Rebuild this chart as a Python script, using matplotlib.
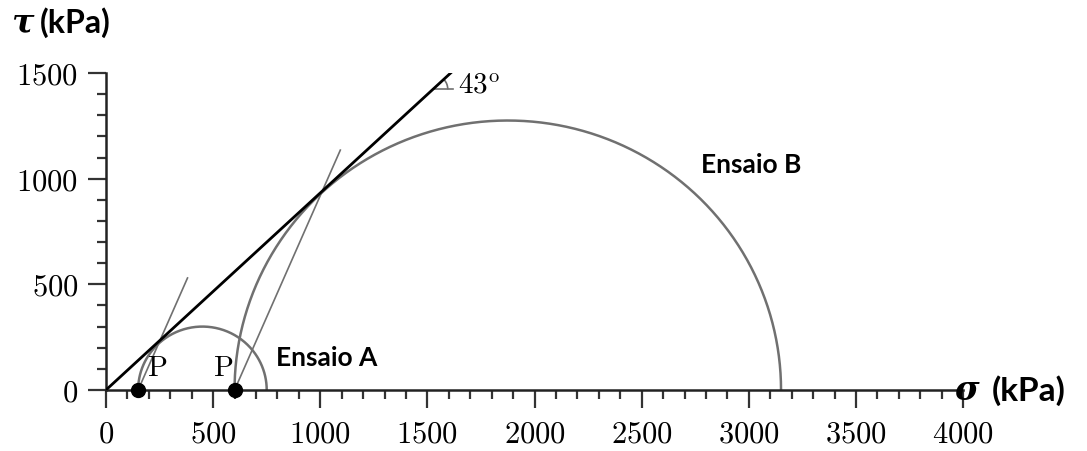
import numpy as np
import matplotlib.pyplot as plt
from matplotlib.patches import Arc

plt.rcParams['mathtext.fontset'] = 'cm'

# Mohr circles for the two tests (kPa)
sigma3 = [150, 600]
sigma1 = [750, 3150]
test_names = ['Ensaio A', 'Ensaio B']
phi_deg = 43
envelope_end = 1610
pole_line_top = [530, 1135]

x_ticks = [0, 500, 1000, 1500, 2000, 2500, 3000, 3500, 4000]
y_ticks = [0, 500, 1000, 1500]

fig = plt.figure(figsize=(10.87, 4.51), dpi=100)
ax = fig.add_axes([0.0975, 0.1353, 0.7886, 0.7029])

circle_color = '#707070'
theta = np.linspace(0, np.pi, 400)
for s3, s1 in zip(sigma3, sigma1):
    c = (s3 + s1) / 2
    r = (s1 - s3) / 2
    ax.plot(c + r * np.cos(theta), r * np.sin(theta), color=circle_color,
            lw=1.8, solid_capstyle='butt', zorder=2)

# failure envelope through the origin
phi = np.radians(phi_deg)
xs = np.array([0, envelope_end])
ax.plot(xs, xs * np.tan(phi), color='black', lw=2.0, zorder=3)

# lines from the poles through the tangent points
ang = np.radians(45 + phi_deg / 2)
for p, top in zip(sigma3, pole_line_top):
    ax.plot([p, p + top / np.tan(ang)], [0, top], color=circle_color,
            lw=1.2, zorder=2)

ax.plot(sigma3, [0, 0], 'o', color='black', ms=10, zorder=5, clip_on=False)
ax.text(238, 104, r'$\mathrm{P}$', fontsize=21, ha='center', va='center')
ax.text(546, 104, r'$\mathrm{P}$', fontsize=21, ha='center', va='center')

# angle marker on the envelope
vx = 1525
vy = vx * np.tan(phi)
ax.plot([vx, vx + 95], [vy, vy], color=circle_color, lw=1.2)
ax.add_patch(Arc((vx, vy), 140, 140 * 0.2143 / 0.2113, theta1=0,
                 theta2=phi_deg, color=circle_color, lw=1.2))
ax.text(1740, 1443, r'$43^{\mathrm{o}}$', fontsize=21, ha='center', va='center')

ax.text(3010, 1065, test_names[1], fontsize=19, fontweight='bold',
        family='Lato', ha='center', va='center')
ax.text(1031, 151, test_names[0], fontsize=19, fontweight='bold',
        family='Lato', ha='center', va='center')

ax.set_xlim(0, 4000)
ax.set_ylim(0, 1500)
ax.set_xticks(x_ticks)
ax.set_yticks(y_ticks)
ax.set_xticks(np.arange(0, 4001, 100), minor=True)
ax.set_yticks(np.arange(0, 1501, 100), minor=True)
ax.set_xticklabels([f'${v}$' for v in x_ticks])
ax.set_yticklabels([f'${v}$' for v in y_ticks])
ax.tick_params(which='major', direction='out', length=13, width=1.6,
               labelsize=22, color='#333333')
ax.tick_params(axis='x', which='major', pad=8)
ax.tick_params(axis='y', which='major', pad=7)
ax.tick_params(which='minor', direction='out', length=6.5, width=1.6,
               color='#333333')
for side in ['top', 'right']:
    ax.spines[side].set_visible(False)
for side in ['left', 'bottom']:
    ax.spines[side].set_linewidth(1.8)
    ax.spines[side].set_color('#222222')

# axis titles
fig.text(0.010, 0.950, 'τ', fontsize=24, fontweight='bold', style='italic',
         family='DejaVu Serif', va='center', ha='left')
fig.text(0.037, 0.950, '(kPa)', fontsize=23, fontweight='bold',
         family='Lato', va='center', ha='left')
fig.text(0.878, 0.135, 'σ', fontsize=24, fontweight='bold', style='italic',
         family='DejaVu Serif', va='center', ha='left')
fig.text(0.912, 0.135, '(kPa)', fontsize=24, fontweight='bold',
         family='Lato', va='center', ha='left')

fig.savefig('out.png', dpi=100)
